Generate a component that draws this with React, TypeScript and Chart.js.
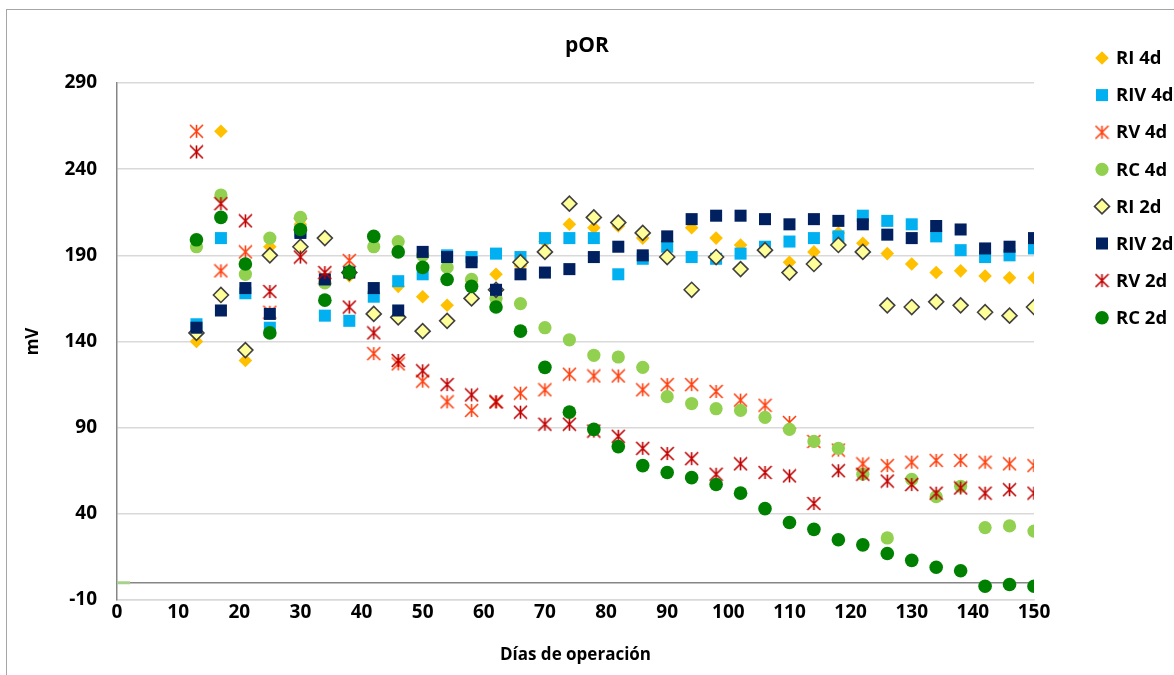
import React, { useEffect, useRef } from 'react';
import { Chart, registerables } from 'chart.js';

Chart.register(...registerables);

// ---- data ----
const days = [13, 17, 21, 25, 30, 34, 38, 42, 46, 50, 54, 58, 62, 66, 70, 74, 78, 82, 86, 90, 94, 98, 102, 106, 110, 114, 118, 122, 126, 130, 134, 138, 142, 146, 150];

const ri4d = [140, 262, 129, 195, 208, 175, 178, 168, 172, 166, 161, 175, 179, 184, 198, 208, 206, 207, 200, 198, 206, 200, 196, 193, 186, 192, 203, 197, 191, 185, 180, 181, 178, 177, 177];
const riv4d = [150, 200, 168, 148, 204, 155, 152, 166, 175, 179, 190, 189, 191, 189, 200, 200, 200, 179, 188, 195, 189, 188, 191, 195, 198, 200, 201, 213, 210, 208, 201, 193, 189, 190, 194];
const rv4d = [262, 181, 192, 157, 208, 177, 187, 133, 127, 117, 105, 100, 105, 110, 112, 121, 120, 120, 112, 115, 115, 111, 106, 103, 93, 82, 77, 69, 68, 70, 71, 71, 70, 69, 68];
const rc4d = [195, 225, 179, 200, 212, 174, 181, 195, 198, 190, 183, 176, 165, 162, 148, 141, 132, 131, 125, 108, 104, 101, 100, 96, 89, 82, 78, 63, 26, 60, 50, 56, 32, 33, 30];
const ri2d = [145, 167, 135, 190, 195, 200, 180, 156, 154, 146, 152, 165, 170, 186, 192, 220, 212, 209, 203, 189, 170, 189, 182, 193, 180, 185, 196, 192, 161, 160, 163, 161, 157, 155, 160];
const riv2d = [148, 158, 171, 156, 203, 176, 180, 171, 158, 192, 189, 186, 170, 179, 180, 182, 189, 195, 190, 201, 211, 213, 213, 211, 208, 211, 210, 208, 202, 200, 207, 205, 194, 195, 200];
const rv2d = [250, 220, 210, 169, 189, 180, 160, 145, 129, 123, 115, 109, 105, 99, 92, 92, 88, 85, 78, 75, 72, 63, 69, 64, 62, 46, 65, 63, 59, 57, 52, 55, 52, 54, 52];
const rc2d = [199, 212, 185, 145, 205, 164, 180, 201, 192, 183, 176, 172, 160, 146, 125, 99, 89, 79, 68, 64, 61, 57, 52, 43, 35, 31, 25, 22, 17, 13, 9, 7, -2, -1, -2];

// stray marker at origin
const originX = [1];
const originY = [0];

const seriesLabels = ['RI 4d', 'RIV 4d', 'RV 4d', 'RC 4d', 'RI 2d', 'RIV 2d', 'RV 2d', 'RC 2d'];
const seriesValues = [ri4d, riv4d, rv4d, rc4d, ri2d, riv2d, rv2d, rc2d];

const X_MIN = 0, X_MAX = 150, X_STEP = 10;
const Y_MIN = -10, Y_MAX = 290, Y_STEP = 50;

const FONT = '"Open Sans", "Noto Sans", sans-serif';

function makeStar(color: string, size = 15, lw = 1.6): HTMLCanvasElement {
  const c = document.createElement('canvas');
  c.width = size;
  c.height = size;
  const g = c.getContext('2d')!;
  g.strokeStyle = color;
  g.lineWidth = lw;
  const h = size / 2;
  const r = size / 2 - 1;
  g.beginPath();
  g.moveTo(h, h - r);
  g.lineTo(h, h + r);
  g.moveTo(h - r, h - r);
  g.lineTo(h + r, h + r);
  g.moveTo(h + r, h - r);
  g.lineTo(h - r, h + r);
  g.stroke();
  return c;
}

function drawMarker(ctx: CanvasRenderingContext2D, ds: any, x: number, y: number) {
  const style = ds.pointStyle;
  const r = ds.pointRadius;
  ctx.save();
  if (style instanceof HTMLCanvasElement) {
    ctx.drawImage(style, x - style.width / 2, y - style.height / 2);
    ctx.restore();
    return;
  }
  ctx.fillStyle = ds.backgroundColor;
  ctx.strokeStyle = ds.borderColor;
  ctx.lineWidth = ds.borderWidth || 0;
  ctx.beginPath();
  if (style === 'rectRot') {
    ctx.moveTo(x, y - r);
    ctx.lineTo(x + r, y);
    ctx.lineTo(x, y + r);
    ctx.lineTo(x - r, y);
    ctx.closePath();
  } else if (style === 'rect') {
    const s = r * Math.SQRT1_2;
    ctx.rect(x - s, y - s, 2 * s, 2 * s);
  } else {
    ctx.arc(x, y, r, 0, Math.PI * 2);
  }
  ctx.fill();
  if (ds.borderWidth > 0) ctx.stroke();
  ctx.restore();
}

const LEGEND_X = 1102;
const LEGEND_TEXT_X = 1116;
const LEGEND_TOP = 58;
const LEGEND_STEP = 37.1;

const legendPlugin = {
  id: 'customLegend',
  afterDraw(chart: any) {
    const ctx = chart.ctx as CanvasRenderingContext2D;
    ctx.save();
    ctx.font = `bold 18.5px ${FONT}`;
    ctx.textBaseline = 'middle';
    ctx.textAlign = 'left';
    ctx.fillStyle = '#000';
    let idx = 0;
    chart.data.datasets.forEach((ds: any) => {
      if (!ds.inLegend) return;
      const y = LEGEND_TOP + idx * LEGEND_STEP;
      drawMarker(ctx, ds, LEGEND_X, y);
      ctx.fillText(ds.label, LEGEND_TEXT_X, y + 1);
      idx++;
    });
    ctx.restore();
  },
};

const zeroLinePlugin = {
  id: 'zeroLine',
  beforeDatasetsDraw(chart: any) {
    const { ctx, chartArea, scales } = chart;
    const y = scales.y.getPixelForValue(0);
    ctx.save();
    ctx.strokeStyle = '#868686';
    ctx.lineWidth = 1.5;
    ctx.beginPath();
    ctx.moveTo(chartArea.left, y);
    ctx.lineTo(chartArea.right, y);
    ctx.stroke();
    ctx.restore();
  },
};

export default function App() {
  const ref = useRef<HTMLCanvasElement>(null);

  useEffect(() => {
    if (!ref.current) return;
    const starOrange = makeStar('#FF3F0F');
    const starRed = makeStar('#C00000');
    const styles: any[] = [
      { pointStyle: 'rectRot', pointRadius: 6.8, backgroundColor: '#FFC000', borderColor: '#FFC000', borderWidth: 0 },
      { pointStyle: 'rect', pointRadius: 8.5, backgroundColor: '#00B0F0', borderColor: '#00B0F0', borderWidth: 0 },
      { pointStyle: starOrange, pointRadius: 7, backgroundColor: '#FF3F0F', borderColor: '#FF3F0F', borderWidth: 0 },
      { pointStyle: 'circle', pointRadius: 6.6, backgroundColor: '#92D050', borderColor: '#92D050', borderWidth: 0 },
      { pointStyle: 'rectRot', pointRadius: 7.5, backgroundColor: '#FFFF99', borderColor: '#404040', borderWidth: 1.6 },
      { pointStyle: 'rect', pointRadius: 8.5, backgroundColor: '#002060', borderColor: '#002060', borderWidth: 0 },
      { pointStyle: starRed, pointRadius: 7, backgroundColor: '#C00000', borderColor: '#C00000', borderWidth: 0 },
      { pointStyle: 'circle', pointRadius: 6.8, backgroundColor: '#008000', borderColor: '#008000', borderWidth: 0 },
    ];
    const datasets: any[] = seriesLabels.map((label, i) => ({
      label,
      inLegend: true,
      data: days.map((d, j) => ({ x: d, y: seriesValues[i][j] })),
      showLine: false,
      order: seriesLabels.length - i,
      pointHoverRadius: styles[i].pointRadius,
      ...styles[i],
    }));
    datasets.push({
      label: '',
      inLegend: false,
      data: originX.map((x, j) => ({ x, y: originY[j] })),
      showLine: false,
      order: 100,
      pointStyle: 'line',
      pointRadius: 7,
      borderWidth: 3,
      borderColor: '#A9D18E',
      backgroundColor: '#A9D18E',
    });

    const chart = new Chart(ref.current, {
      type: 'scatter',
      data: { datasets },
      options: {
        animation: false,
        responsive: false,
        events: [],
        layout: { autoPadding: false, padding: { left: 0, right: 0, top: 0, bottom: 0 } },
        plugins: {
          legend: { display: false },
          tooltip: { enabled: false },
          title: {
            display: true,
            text: 'pOR',
            color: '#000',
            font: { family: FONT, size: 21, weight: 'bold' },
            padding: { top: 33, bottom: 24.8 },
          },
        },
        scales: {
          x: {
            type: 'linear',
            min: X_MIN,
            max: X_MAX,
            afterFit: (s: any) => { s.height = 75; },
            ticks: {
              stepSize: X_STEP,
              autoSkip: false,
              color: '#000',
              padding: 1,
              font: { family: FONT, size: 19, weight: 'bold' },
            },
            grid: { display: false, drawTicks: false },
            border: { color: '#D9D9D9', width: 1.5 },
            title: {
              display: true,
              text: 'Días de operación',
              color: '#000',
              font: { family: FONT, size: 17, weight: 'bold' },
              padding: { top: 0, bottom: 9.8 },
            },
          },
          y: {
            type: 'linear',
            min: Y_MIN,
            max: Y_MAX,
            afterFit: (s: any) => { s.width = 117; },
            ticks: {
              stepSize: Y_STEP,
              color: '#000',
              padding: 20,
              font: { family: FONT, size: 19, weight: 'bold' },
            },
            grid: { color: '#D9D9D9', lineWidth: 1.5, drawTicks: false },
            border: { color: '#868686', width: 1.5 },
            title: {
              display: true,
              text: 'mV',
              color: '#000',
              font: { family: FONT, size: 17, weight: 'bold' },
              padding: { top: 22.8, bottom: 0 },
            },
          },
          // empty right-hand box reserving room for the legend
          yRight: {
            type: 'linear',
            position: 'right',
            min: Y_MIN,
            max: Y_MAX,
            afterFit: (s: any) => { s.width = 140; },
            ticks: { display: false },
            grid: { display: false, drawTicks: false },
            border: { display: false },
            title: { display: false },
          },
        },
      } as any,
      plugins: [zeroLinePlugin, legendPlugin],
    });
    return () => chart.destroy();
  }, []);

  return (
    <div style={{ position: 'absolute', left: 0, top: 0, width: 1174, height: 675, overflow: 'hidden', background: '#fff' }}>
      <div style={{ position: 'absolute', left: 6, top: 9, width: 1300, height: 800, borderLeft: '1.5px solid #A6A6A6', borderTop: '1.5px solid #A6A6A6' }} />
      <canvas ref={ref} width={1174} height={675} style={{ position: 'absolute', left: 0, top: 0 }} />
    </div>
  );
}
